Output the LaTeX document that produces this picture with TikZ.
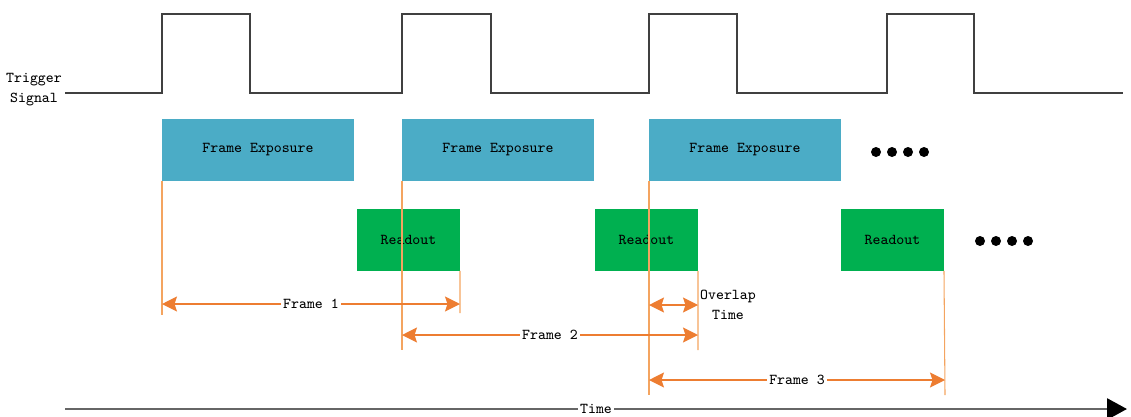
\documentclass[tikz,border=0pt]{standalone}
\usepackage{xcolor}
\usepackage{tikz}
\usetikzlibrary{arrows.meta}

\definecolor{expblue}{HTML}{4BACC6}
\definecolor{rdgreen}{HTML}{00B050}
\definecolor{spanorange}{HTML}{ED7D31}
\definecolor{guideorange}{HTML}{F4A460}
\definecolor{sigline}{HTML}{404040}
\definecolor{axisgray}{HTML}{666666}

\tikzset{
  txt/.style={font=\ttfamily\fontsize{8.6}{11.3}\selectfont,text=black},
  expbox/.style={txt,fill=expblue,anchor=north west,outer sep=0pt,minimum width=3.84cm,minimum height=1.24cm},
  rdbox/.style={txt,fill=rdgreen,anchor=north west,outer sep=0pt,minimum width=2.06cm,minimum height=1.24cm},
  guide/.style={guideorange,line width=0.6pt},
  span/.style={spanorange,line width=0.8pt,{Stealth[length=0.3cm,width=0.3cm,inset=0.05cm]}-{Stealth[length=0.3cm,width=0.3cm,inset=0.05cm]}},
  lbl/.style={txt,fill=white,inner sep=1pt},
  signal/.style={sigline,line width=0.9pt},
  timeaxis/.style={axisgray,line width=1.6pt,-{Triangle[length=0.4cm,width=0.42cm,color=black]}}
}

\begin{document}
\begin{tikzpicture}[x=0.02cm,y=-0.02cm]
\useasboundingbox (0,0) rectangle (1131,416);

% trigger signal
\node[txt,align=center] (trig) at (34,90) {Trigger\\Signal};
\draw[signal] (65,93) -| (162,14) -| (250,93) -| (402,14) -| (491,93)
  -| (649,14) -| (737,93) -| (887,14) -| (974,93) -- (1123,93);

% exposure and readout boxes
\node[expbox] (exp1) at (162,119) {Frame Exposure};
\node[expbox] (exp2) at (402,119) {Frame Exposure};
\node[expbox] (exp3) at (649,119) {Frame Exposure};
\node[rdbox] (rd1) at (357,209) {Readout};
\node[rdbox] (rd2) at (595,209) {Readout};
\node[rdbox] (rd3) at (841,209) {Readout};

% more frames
\foreach \x in {876,892,908,924} \fill (\x,152) circle (5);
\foreach \x in {980,996,1012,1028} \fill (\x,241) circle (5);

% guide lines
\coordinate (g1) at (162,315);
\coordinate (g2) at (402,350);
\coordinate (g3) at (460,313);
\coordinate (g4) at (649,395);
\coordinate (g5) at (698,350);
\coordinate (g6) at (945,395);
\draw[guide] (exp1.south west) -- (g1);
\draw[guide] (exp2.south west) -- (g2);
\draw[guide] (rd1.south east) -- (g3);
\draw[guide] (exp3.south west) -- (g4);
\draw[guide] (rd2.south east) -- (g5);
\draw[guide] (rd3.south east) -- (g6);

% frame spans
\coordinate (f1a) at (162,304);
\coordinate (f1b) at (460,304);
\coordinate (f2a) at (402,335);
\coordinate (f2b) at (698,335);
\coordinate (f3a) at (649,380);
\coordinate (f3b) at (945,380);
\coordinate (ova) at (649,305);
\coordinate (ovb) at (698,305);
\draw[span] (f1a) -- node[lbl] {Frame 1} (f1b);
\draw[span] (f2a) -- node[lbl] {Frame 2} (f2b);
\draw[span] (f3a) -- node[lbl] {Frame 3} (f3b);
\draw[span] (ova) -- (ovb);
\node[txt,align=center] (ovl) at (728,305) {Overlap\\Time};

% time axis
\coordinate (t0) at (65,409);
\coordinate (t1) at (1127,409);
\draw[timeaxis] (t0) -- node[lbl] {Time} (t1);
\end{tikzpicture}
\end{document}
